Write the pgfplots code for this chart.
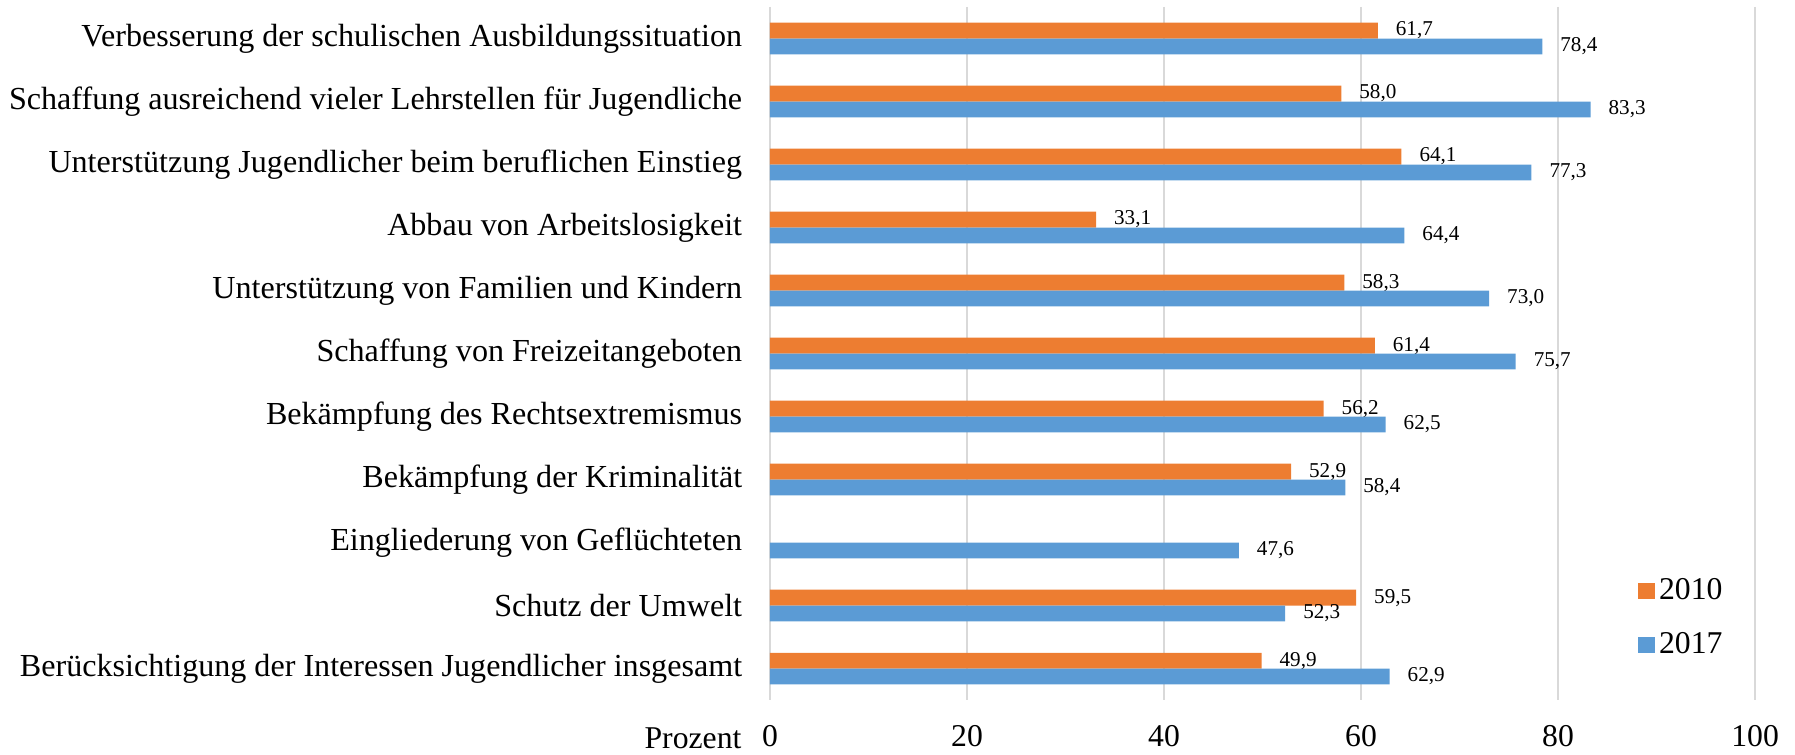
\documentclass[border=0pt]{standalone}
\usepackage{pgfplots}
\pgfplotsset{compat=1.18}
\usepackage{pgfplotstable}
\usetikzlibrary{calc}
\usepackage{fontspec}
\setmainfont{Liberation Serif}

\definecolor{c2010}{HTML}{ED7D31}
\definecolor{c2017}{HTML}{5B9BD5}
\definecolor{gridgray}{HTML}{D9D9D9}

% idx 0 = top category
\pgfplotstableread{
idx val
0  61.7
1  58.0
2  64.1
3  33.1
4  58.3
5  61.4
6  56.2
7  52.9
9  59.5
10 49.9
}\dataA

\pgfplotstableread{
idx val
0  78.4
1  83.3
2  77.3
3  64.4
4  73.0
5  75.7
6  62.5
7  58.4
8  47.6
9  52.3
10 62.9
}\dataB

\begin{document}
\begin{tikzpicture}
\begin{axis}[
    scale only axis,
    width=372.8pt, height=262.3pt,
    xbar=0pt, bar width=6pt,
    xmin=0, xmax=100,
    ymin=-0.5, ymax=10.5,
    y dir=reverse,
    clip mode=individual,
    axis line style={draw=none},
    major tick length=0pt,
    xtick={0,20,...,100},
    ytick={0,...,10},
    yticklabels={
        Verbesserung der schulischen Ausbildungssituation,
        Schaffung ausreichend vieler Lehrstellen für Jugendliche,
        Unterstützung Jugendlicher beim beruflichen Einstieg,
        Abbau von Arbeitslosigkeit,
        Unterstützung von Familien und Kindern,
        Schaffung von Freizeitangeboten,
        Bekämpfung des Rechtsextremismus,
        Bekämpfung der Kriminalität,
        Eingliederung von Geflüchteten,
        Schutz der Umwelt,
        Berücksichtigung der Interessen Jugendlicher insgesamt},
    xmajorgrids,
    major grid style={gridgray, line width=0.8pt},
    xticklabel style={font=\fontsize{12}{14}\selectfont, yshift=-6pt},
    yticklabel style={font=\fontsize{12.15}{14}\selectfont, xshift=-7pt},
    /pgf/number format/assume math mode=true,
    point meta=x,
    nodes near coords={\pgfmathprintnumber[fixed,fixed zerofill,precision=1,use comma]{\pgfplotspointmeta}},
    nodes near coords style={font=\fontsize{8}{9}\selectfont, black, anchor=west, xshift=3.3pt},
    legend style={draw=none, fill=none, at={(0.873,0.19)}, anchor=north west,
        font=\fontsize{12}{14}\selectfont, row sep=8pt,
        nodes={inner sep=1.5pt}},
    legend cell align=left,
    legend image code/.code={\fill[#1] (0pt,-3.1pt) rectangle (6.3pt,3.1pt);},
]
\addplot[fill=c2010, draw=none, bar shift=3pt] table[x=val, y=idx] {\dataA};
\addlegendentry{2010}
\addplot[fill=c2017, draw=none, bar shift=-3pt] table[x=val, y=idx] {\dataB};
\addlegendentry{2017}

\coordinate (tl) at (axis cs:0,-0.5);
\coordinate (br) at (axis cs:100,10.5);
\node[anchor=base east, font=\fontsize{12}{14}\selectfont, inner sep=0pt]
    at ($(axis cs:0,10.5)+(-10.6pt,-18.4pt)$) {Prozent};
\end{axis}
\pgfresetboundingbox
\path ($(tl)+(-291.4pt,2.65pt)$) rectangle ($(br)+(15.1pt,-20.4pt)$);
\end{tikzpicture}
\end{document}
